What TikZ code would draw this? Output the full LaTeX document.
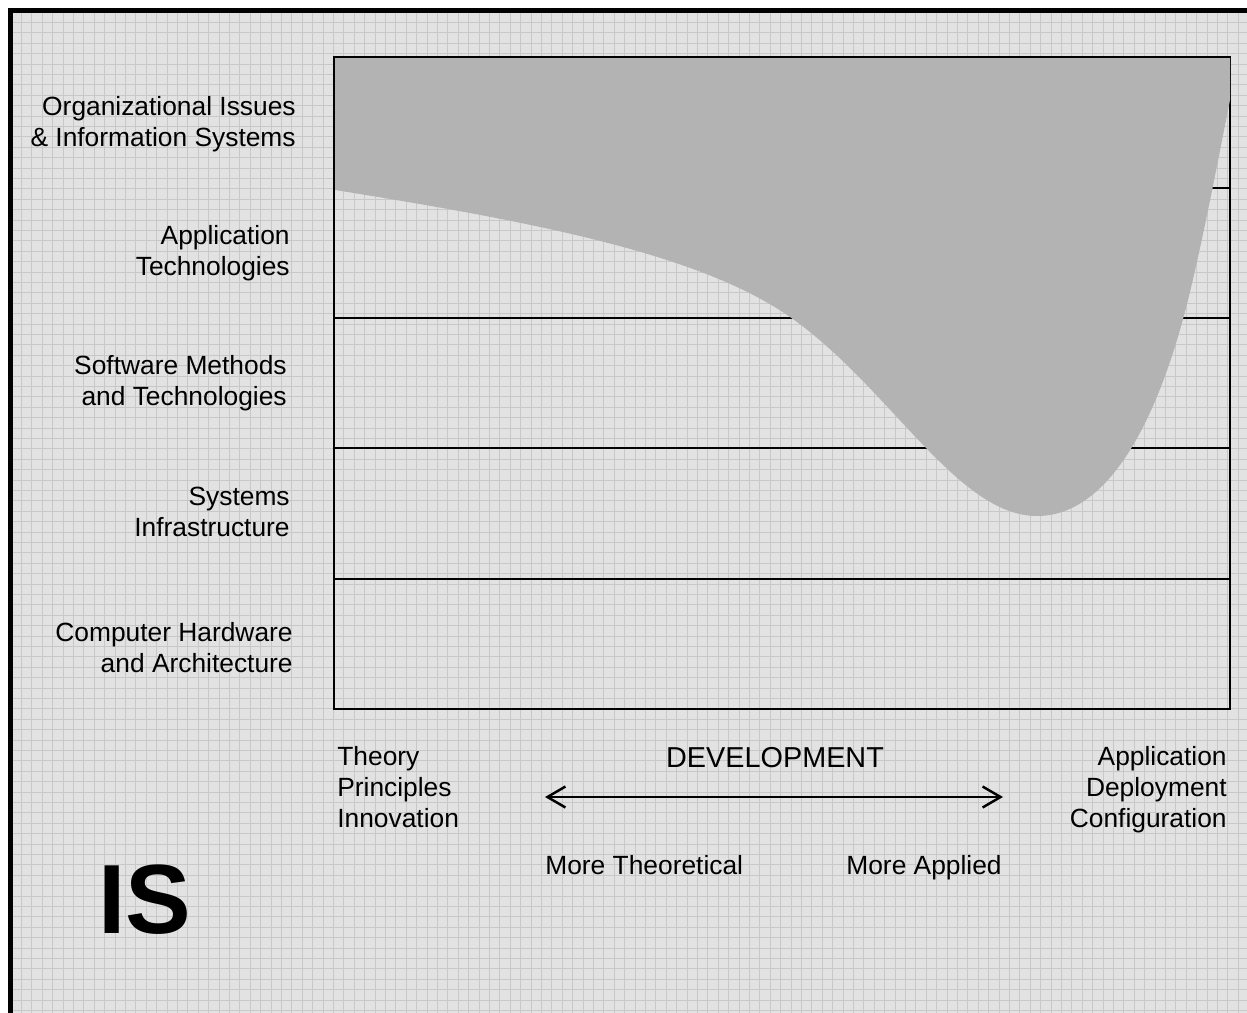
\documentclass[tikz,border=0pt]{standalone}
\usepackage{fontspec}
\setmainfont{Liberation Sans}
\usetikzlibrary{arrows.meta}
\definecolor{paper}{HTML}{E2E2E2}
\definecolor{gridline}{HTML}{C8C8C8}
\definecolor{areagray}{HTML}{B3B3B3}
\newcommand{\lblfont}{\fontsize{15}{17.6}\selectfont}
\tikzset{
  rowlabel/.style={anchor=east, align=right, inner sep=0pt, font=\lblfont},
  axislabel/.style={inner sep=0pt, font=\lblfont},
  rule/.style={line width=1.1pt},
}

\begin{document}
\begin{tikzpicture}[x=0.02cm, y=-0.02cm]
\useasboundingbox (0,0) rectangle (1247,1013);
\fill[white] (0,0) rectangle (1247,1013);
\fill[paper] (10,10) rectangle (1247,1013);
\begin{scope}
\clip (10,10) rectangle (1247,1013);
\foreach \k in {0,...,120}
  \draw[gridline, line width=0.5pt] (11+10.4*\k,10) -- (11+10.4*\k,1013);
\foreach \k in {0,...,100}
  \draw[gridline, line width=0.5pt] (10,12+10.4*\k) -- (1247,12+10.4*\k);
\end{scope}
\draw[line width=2.9pt] (10.5,1040) -- (10.5,10.5) -- (1270,10.5);

\foreach \y in {188,318,448,579}
  \draw[rule] (334,\y) -- (1230,\y);
\draw[rule] (334,57) rectangle (1230,709);

\fill[areagray] (335,58) -- (335,190)
  .. controls (535,222) and (700,254) .. (790,317)
  .. controls (890,387) and (957,516) .. (1037,516)
  .. controls (1112,516) and (1160,412) .. (1188,300)
  .. controls (1203,240) and (1222,140) .. (1230,100)
  -- (1230,58) -- cycle;
\draw[rule] (334,57) -- (1230,57);

\node[rowlabel] (org) at (296,124) {Organizational Issues\\\& Information Systems};
\node[rowlabel] (app) at (290,253.5) {Application\\Technologies};
\node[rowlabel] (sw) at (287,383) {Software Methods\\and Technologies};
\node[rowlabel] (sys) at (290,512) {Systems\\Infrastructure};
\node[rowlabel] (hw) at (293,648) {Computer Hardware\\and Architecture};

\node[axislabel, anchor=west, align=left] (theory) at (337,787) {Theory\\Principles\\Innovation};
\node[axislabel, anchor=east, align=right] (applied) at (1227,790) {Application\\Deployment\\Configuration};
\node[axislabel, font=\fontsize{16.4}{19}\selectfont] (dev) at (775,758) {DEVELOPMENT};
\node[axislabel, anchor=west] (moretheo) at (545,865) {More Theoretical};
\node[axislabel, anchor=east] (moreapp) at (1002,868) {More Applied};

\coordinate (left) at (545,797);
\coordinate (right) at (1003,797);
\draw[line width=1.4pt, {Straight Barb[length=0.36cm, width=0.42cm]}-{Straight Barb[length=0.36cm, width=0.42cm]}] (left) -- (right);

\node[inner sep=0pt, font=\fontsize{56}{60}\selectfont\bfseries] (is) at (145,900) {IS};
\end{tikzpicture}
\end{document}
